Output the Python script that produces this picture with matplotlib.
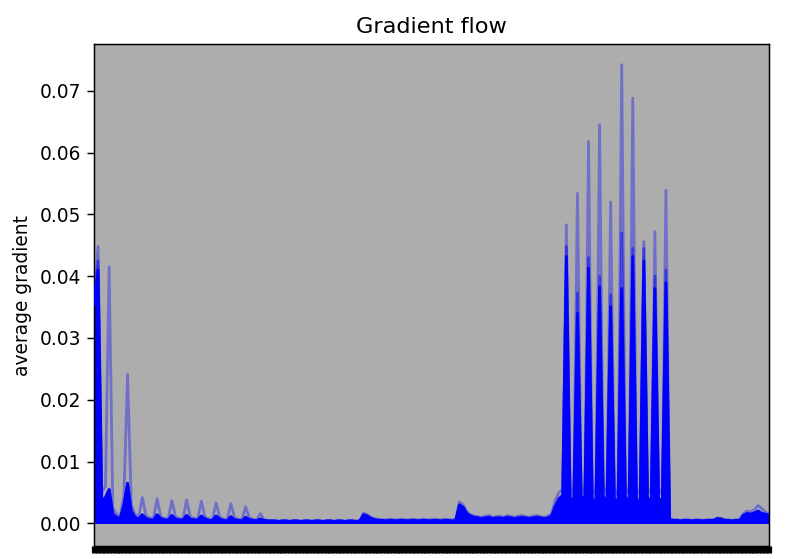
import numpy as np
import matplotlib
matplotlib.use("Agg")
import matplotlib.pyplot as plt

# average |grad| per layer (184 weight layers)
# grad_typ: level reached by most iterations (solid blue)
grad_typ = [
    0.0355, 0.0410, 0.0035, 0.0042, 0.0055, 0.0015, 0.0010, 0.0008, 0.0030, 0.0065, 0.0020, 0.0010, 0.0007,
    0.0014, 0.0008, 0.0006, 0.0005, 0.0014, 0.0008, 0.0006, 0.0005,
    0.0013, 0.0007, 0.0006, 0.0005, 0.0013, 0.0007, 0.0006, 0.0005,
    0.0012, 0.0007, 0.0005, 0.0005, 0.0012, 0.0007, 0.0005, 0.0004,
    0.0011, 0.0006, 0.0005, 0.0004, 0.0010, 0.0006, 0.0005, 0.0004,
    0.0007,
    0.0005, 0.0004, 0.0004, 0.0004, 0.0003, 0.0004, 0.0004, 0.0003, 0.0004, 0.0004,
    0.0003, 0.0004, 0.0004, 0.0003, 0.0004, 0.0004, 0.0003, 0.0004, 0.0004, 0.0003,
    0.0004, 0.0004, 0.0003, 0.0004, 0.0004, 0.0003, 0.0004,
    0.0014, 0.0012, 0.0008, 0.0006,
    0.0005, 0.0005, 0.0004, 0.0005, 0.0005, 0.0004, 0.0005, 0.0005, 0.0004, 0.0005, 0.0005,
    0.0004, 0.0005, 0.0005, 0.0004, 0.0005, 0.0005, 0.0004, 0.0005, 0.0005, 0.0004, 0.0005,
    0.0030, 0.0026, 0.0016, 0.0012,
    0.0010, 0.0009, 0.0008, 0.0009, 0.0010, 0.0008, 0.0009, 0.0009, 0.0008, 0.0010, 0.0009,
    0.0008, 0.0009, 0.0010, 0.0009, 0.0008, 0.0009, 0.0010, 0.0009, 0.0008, 0.0009,
    0.0012, 0.0028, 0.0040, 0.0045,
    0.0432, 0.0042, 0.0033, 0.0340, 0.0045, 0.0034, 0.0413, 0.0040, 0.0032,
    0.0383, 0.0044, 0.0034, 0.0351, 0.0041, 0.0031, 0.0380, 0.0043, 0.0033,
    0.0432, 0.0040, 0.0032, 0.0425, 0.0042, 0.0034, 0.0380, 0.0041, 0.0033,
    0.0389,
    0.0006, 0.0005, 0.0005, 0.0004, 0.0005, 0.0005, 0.0004, 0.0005, 0.0005, 0.0004, 0.0005, 0.0005, 0.0005,
    0.0008, 0.0007, 0.0005, 0.0005, 0.0004, 0.0005, 0.0005,
    0.0013, 0.0016, 0.0015, 0.0017, 0.0020, 0.0016, 0.0015, 0.0013,
]

# grad_max: highest value seen in any iteration (light tips)
grad_max = [
    0.0360, 0.0448, 0.0050, 0.0060, 0.0415, 0.0025, 0.0015, 0.0012, 0.0045, 0.0241, 0.0030, 0.0015, 0.0010,
    0.0042, 0.0012, 0.0009, 0.0007, 0.0040, 0.0011, 0.0008, 0.0007,
    0.0037, 0.0011, 0.0008, 0.0007, 0.0038, 0.0011, 0.0008, 0.0007,
    0.0036, 0.0010, 0.0008, 0.0006, 0.0033, 0.0010, 0.0007, 0.0006,
    0.0032, 0.0009, 0.0007, 0.0006, 0.0027, 0.0009, 0.0007, 0.0006,
    0.0016,
    0.0006, 0.0005, 0.0005, 0.0005, 0.0004, 0.0005, 0.0005, 0.0004, 0.0005, 0.0005,
    0.0004, 0.0005, 0.0005, 0.0004, 0.0005, 0.0005, 0.0004, 0.0005, 0.0005, 0.0004,
    0.0005, 0.0005, 0.0004, 0.0005, 0.0005, 0.0004, 0.0005,
    0.0017, 0.0014, 0.0010, 0.0008,
    0.0007, 0.0006, 0.0006, 0.0007, 0.0006, 0.0006, 0.0007, 0.0006, 0.0006, 0.0007, 0.0006,
    0.0006, 0.0007, 0.0006, 0.0006, 0.0007, 0.0006, 0.0006, 0.0007, 0.0006, 0.0006, 0.0007,
    0.0035, 0.0030, 0.0019, 0.0014,
    0.0012, 0.0011, 0.0010, 0.0012, 0.0013, 0.0010, 0.0011, 0.0012, 0.0010, 0.0013, 0.0011,
    0.0010, 0.0012, 0.0013, 0.0011, 0.0010, 0.0012, 0.0013, 0.0011, 0.0010, 0.0012,
    0.0016, 0.0038, 0.0050, 0.0055,
    0.0483, 0.0058, 0.0048, 0.0534, 0.0060, 0.0049, 0.0618, 0.0055, 0.0046,
    0.0645, 0.0059, 0.0050, 0.0520, 0.0056, 0.0045, 0.0742, 0.0058, 0.0048,
    0.0688, 0.0055, 0.0047, 0.0456, 0.0057, 0.0049, 0.0472, 0.0056, 0.0048,
    0.0539,
    0.0008, 0.0006, 0.0006, 0.0005, 0.0006, 0.0006, 0.0005, 0.0006, 0.0006, 0.0005, 0.0006, 0.0006, 0.0006,
    0.0009, 0.0008, 0.0006, 0.0006, 0.0005, 0.0006, 0.0006,
    0.0016, 0.0020, 0.0019, 0.0022, 0.0029, 0.0024, 0.0018, 0.0016,
]

# medium level (about half the iterations) where it differs from grad_typ
mid_layers = [1, 128, 131, 134, 137, 140, 143, 146, 149, 152, 155]
mid_values = [0.0425, 0.0448, 0.0373, 0.0430, 0.0400, 0.0370, 0.0470, 0.0445, 0.0445, 0.0400, 0.0410]

layers = [f"layer{i}.weight" for i in range(len(grad_typ))]

grad_typ = np.array(grad_typ)
grad_max = np.array(grad_max)
grad_mid = grad_typ.copy()
grad_mid[mid_layers] = mid_values
x = np.arange(len(grad_typ))

dpi = 134
fig = plt.figure(figsize=(800 / dpi, 559 / dpi), dpi=dpi)
ax = fig.add_axes([0.118, 0.0238, 0.8435, 0.8969])
ax.set_facecolor("#adadad")

ax.hlines(0, 0, len(grad_typ) + 1, linewidth=1, color="k", zorder=1.5)
ax.fill_between(x, 0, grad_typ, color="b", lw=0, zorder=2)
ax.plot(x, grad_typ, color="b", zorder=3)
ax.plot(x, grad_mid, color="b", alpha=0.5, zorder=3)
ax.plot(x, grad_max, color="b", alpha=0.35, zorder=3)

# one tick per layer; the vertical names run off the bottom of the figure
ax.set_xticks(range(0, len(grad_typ), 1))
ax.set_xticklabels(layers, rotation="vertical", fontsize=2)
ax.tick_params(axis="x", width=2.8)
ax.set_xlim(0, len(grad_typ) - 1)
ax.set_ylim(-0.0036, 0.0775)
ax.set_ylabel("average gradient")
ax.set_title("Gradient flow")

fig.savefig("out.png", dpi=dpi)
